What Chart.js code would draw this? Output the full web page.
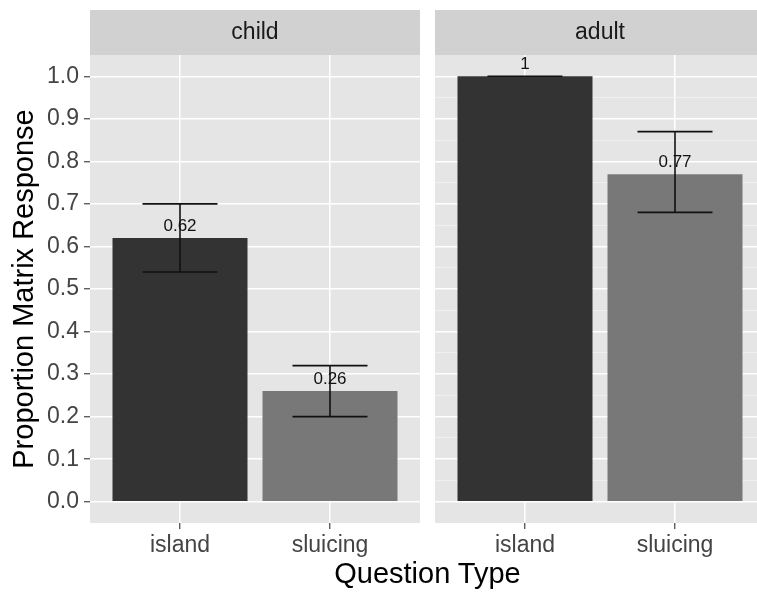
<!DOCTYPE html>
<html>
<head>
<meta charset="utf-8">
<script src="https://cdn.jsdelivr.net/npm/chart.js@4.4.1/dist/chart.umd.min.js"></script>
<style>
  html, body { margin: 0; padding: 0; background: #fff; overflow: hidden; }
  #wrap { position: relative; width: 757px; height: 593px; overflow: hidden; }
  #childChart { position: absolute; left: 0; top: 0; }
  #adultChart { position: absolute; left: 435px; top: 0; }
  #xTitle {
    position: absolute; left: 90px; width: 675px; top: 557px;
    text-align: center; font: 29px "Liberation Sans", Arial, sans-serif; color: #000;
  }
</style>
</head>
<body>
<div id="wrap">
  <canvas id="childChart" width="420" height="593"></canvas>
  <canvas id="adultChart" width="330" height="593"></canvas>
  <div id="xTitle">Question Type</div>
</div>
<script>
// data
const questionTypes = ['island', 'sluicing'];
const xPositions = [1, 2];
const childMeans = [0.62, 0.26];
const childLower = [0.54, 0.20];
const childUpper = [0.70, 0.32];
const adultMeans = [1, 0.77];
const adultLower = [1, 0.68];
const adultUpper = [1, 0.87];
const yTicks = [0, 0.1, 0.2, 0.3, 0.4, 0.5, 0.6, 0.7, 0.8, 0.9, 1.0];
const yTickLabels = ['0.0', '0.1', '0.2', '0.3', '0.4', '0.5', '0.6', '0.7', '0.8', '0.9', '1.0'];
const barColors = ['#333333', '#787878'];

const FONT = '"Liberation Sans", Arial, Helvetica, sans-serif';
const AXIS_TEXT = '#444444';

// major ticks plus the minor lines half way between them
var yGrid = [];
yTicks.forEach(function (v, i) {
    yGrid.push({ value: v, isMajor: true, label: yTickLabels[i] });
    if (i < yTicks.length - 1) yGrid.push({ value: (v + yTicks[i + 1]) / 2, isMajor: false, label: '' });
});

function panelPlugin(strip, means, lower, upper, showYTitle) {
    return {
        id: 'panel_' + strip,
        beforeDraw(chart) {
            var ctx = chart.ctx, a = chart.chartArea;
            ctx.save();
            ctx.fillStyle = '#E5E5E5';
            ctx.fillRect(a.left, a.top, a.right - a.left, a.bottom - a.top);
            ctx.fillStyle = '#D1D1D1';
            ctx.fillRect(a.left, a.top - 45, a.right - a.left, 45);
            ctx.fillStyle = '#1A1A1A';
            ctx.font = '23px ' + FONT;
            ctx.textAlign = 'center';
            ctx.textBaseline = 'middle';
            ctx.fillText(strip, (a.left + a.right) / 2, a.top - 22);
            ctx.restore();
        },
        afterDatasetsDraw(chart) {
            var ctx = chart.ctx;
            var xs = chart.scales.x, ys = chart.scales.y;
            ctx.save();
            // value labels
            ctx.fillStyle = '#111';
            ctx.font = '17px ' + FONT;
            ctx.textAlign = 'center';
            ctx.textBaseline = 'middle';
            means.forEach(function (m, i) {
                ctx.fillText(String(m), xs.getPixelForValue(xPositions[i]), ys.getPixelForValue(m) - 12);
            });
            // error bars
            ctx.strokeStyle = '#111';
            ctx.lineWidth = 1.6;
            means.forEach(function (m, i) {
                var x = xs.getPixelForValue(xPositions[i]);
                var half = xs.getPixelForValue(xPositions[i] + 0.25) - x;
                var yl = ys.getPixelForValue(lower[i]), yu = ys.getPixelForValue(upper[i]);
                ctx.beginPath();
                ctx.moveTo(x, yl); ctx.lineTo(x, yu);
                ctx.moveTo(x - half, yl); ctx.lineTo(x + half, yl);
                ctx.moveTo(x - half, yu); ctx.lineTo(x + half, yu);
                ctx.stroke();
            });
            ctx.restore();
        },
        afterDraw(chart) {
            if (!showYTitle) return;
            var ctx = chart.ctx, a = chart.chartArea;
            ctx.save();
            ctx.translate(33, (a.top + a.bottom) / 2);
            ctx.rotate(-Math.PI / 2);
            ctx.fillStyle = '#000';
            ctx.font = '29px ' + FONT;
            ctx.textAlign = 'center';
            ctx.textBaseline = 'alphabetic';
            ctx.fillText('Proportion Matrix Response', 0, 0);
            ctx.restore();
        }
    };
}

function makeChart(canvasId, strip, means, lower, upper, showY) {
    return new Chart(document.getElementById(canvasId), {
        type: 'bar',
        data: {
            datasets: [{
                data: xPositions.map(function (x, i) { return { x: x, y: means[i] }; }),
                backgroundColor: barColors,
                borderWidth: 0,
                barPercentage: 0.9,
                categoryPercentage: 1.0
            }]
        },
        options: {
            responsive: false,
            animation: false,
            layout: { padding: { top: 55, left: 0, right: 0, bottom: 0 } },
            plugins: { legend: { display: false }, tooltip: { enabled: false } },
            scales: {
                x: {
                    type: 'linear',
                    min: 0.4,
                    max: 2.6,
                    offset: false,
                    afterBuildTicks: function (ax) { ax.ticks = xPositions.map(function (v) { return { value: v }; }); },
                    afterFit: function (ax) { ax.height = 70; },
                    ticks: {
                        autoSkip: false,
                        maxRotation: 0,
                        padding: 3,
                        color: AXIS_TEXT,
                        font: { family: FONT, size: 23 },
                        callback: function (v) { return questionTypes[xPositions.indexOf(v)]; }
                    },
                    grid: { offset: false, color: '#FFFFFF', lineWidth: 1.5, tickColor: AXIS_TEXT, tickLength: 6, tickWidth: 1.2 },
                    border: { display: false }
                },
                y: {
                    min: -0.05,
                    max: 1.05,
                    afterBuildTicks: function (ax) { ax.ticks = yGrid.map(function (t) { return Object.assign({}, t); }); },
                    afterFit: function (ax) { ax.width = showY ? 90 : 0; },
                    ticks: {
                        display: showY,
                        padding: 5,
                        color: AXIS_TEXT,
                        font: { family: FONT, size: 23 },
                        callback: function (v, i, ticks) { return ticks[i].label; }
                    },
                    grid: {
                        drawTicks: showY,
                        color: function (c) { return c.tick && c.tick.isMajor ? '#FFFFFF' : '#F2F2F2'; },
                        lineWidth: function (c) { return c.tick && c.tick.isMajor ? 1.5 : 0.8; },
                        tickColor: function (c) { return c.tick && c.tick.isMajor ? AXIS_TEXT : 'rgba(0,0,0,0)'; },
                        tickLength: 6,
                        tickWidth: 1.2
                    },
                    border: { display: false }
                }
            }
        },
        plugins: [panelPlugin(strip, means, lower, upper, showY)]
    });
}

makeChart('childChart', 'child', childMeans, childLower, childUpper, true);
makeChart('adultChart', 'adult', adultMeans, adultLower, adultUpper, false);
</script>
</body>
</html>
